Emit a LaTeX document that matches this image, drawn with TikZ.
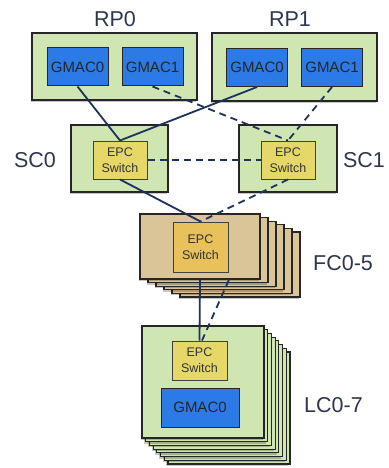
\documentclass[tikz,border=0pt]{standalone}
\usepackage{fontspec}
\setmainfont{Liberation Sans}
\usetikzlibrary{shadows,calc}
\definecolor{cardgreen}{RGB}{207,230,178}
\definecolor{gmacblue}{RGB}{43,122,230}
\definecolor{epcyellow}{RGB}{229,216,105}
\definecolor{epcgold}{RGB}{233,193,92}
\definecolor{fctan}{RGB}{217,197,152}
\definecolor{wire}{RGB}{30,50,92}
\definecolor{labeltext}{RGB}{45,55,75}
\begin{document}
\begin{tikzpicture}[x=1pt,y=-1pt,
  card/.style={draw=black!85,line width=1.2pt,fill=cardgreen,inner sep=0pt,
    drop shadow={shadow xshift=-1.5pt,shadow yshift=-2pt,fill=black,opacity=0.22}},
  gmac/.style={draw=black!85,line width=1pt,fill=gmacblue,minimum width=61pt,minimum height=38pt,
    inner sep=0pt,font=\fontsize{15}{17}\selectfont,text=black!85},
  epc/.style={draw=black!75,line width=1pt,fill=epcyellow,minimum width=54pt,minimum height=38pt,
    inner sep=0pt,align=center,font=\fontsize{12.5}{16}\selectfont,text=black!80},
  biglabel/.style={font=\fontsize{21.5}{24}\selectfont,text=labeltext,inner sep=0pt},
  link/.style={draw=wire,line width=1.8pt},
  dashlink/.style={link,dash pattern=on 7pt off 5pt}]
\useasboundingbox (0,0) rectangle (388,468);

% RP cards
\node[card,minimum width=165pt,minimum height=67pt] (rp0) at (114.5,66.5) {};
\node[card,minimum width=165pt,minimum height=68pt] (rp1) at (294.5,67) {};
\node[biglabel] (rp0l) at (115,19.5) {RP0};
\node[biglabel] (rp1l) at (290,19.5) {RP1};
\node[gmac] (rp0g0) at (77.5,67) {GMAC0};
\node[gmac] (rp0g1) at (152.5,67) {GMAC1};
\node[gmac] (rp1g0) at (257,67.5) {GMAC0};
\node[gmac] (rp1g1) at (332,67.5) {GMAC1};

% SC cards
\node[card,minimum width=97pt,minimum height=67pt] (sc0) at (119.5,158.5) {};
\node[card,minimum width=98pt,minimum height=67pt] (sc1) at (288,158.5) {};
\node[epc] (sc0epc) at (120,160) {EPC\\Switch};
\node[epc] (sc1epc) at (288,160) {EPC\\Switch};
\node[biglabel] (sc0l) at (35,160.5) {SC0};
\node[biglabel] (sc1l) at (364,160.5) {SC1};

% FC stack
\foreach \k in {5,4,3,2,1}{
  \node[card,fill=fctan,minimum width=120pt,minimum height=65pt] (fcb\k) at ({200+8*\k},{246.5+3.6*\k}) {};
}
\node[card,fill=fctan,minimum width=120pt,minimum height=65pt] (fc) at (200,246.5) {};
\node[epc,fill=epcgold,minimum width=55pt,minimum height=50pt] (fcepc) at (200.5,247) {EPC\\Switch};
\node[biglabel] (fcl) at (343,263.5) {FC0-5};

% LC stack
\foreach \k in {7,6,5,4,3,2,1}{
  \node[card,minimum width=122pt,minimum height=112pt] (lcb\k) at ({203+3.7*\k},{382+3.7*\k}) {};
}
\node[card,minimum width=122pt,minimum height=112pt] (lc) at (203,382) {};
\node[epc,minimum width=55pt,minimum height=39pt] (lcepc) at (199.5,360.5) {EPC\\Switch};
\node[gmac,minimum width=78pt,minimum height=39pt] (lcg0) at (200,407.5) {GMAC0};
\node[biglabel] (lcl) at (333.5,405) {LC0-7};

% connectors
\draw[link] (rp0g0.south) -- (sc0epc.north);
\draw[link] (rp1g0.south) -- (sc0epc.north);
\draw[dashlink] (rp0g1.south) -- (sc1epc.north);
\draw[dashlink] (rp1g1.south) -- (sc1epc.north);
\draw[dashlink] (sc0epc.east) -- (sc1epc.west);
\draw[link] (sc0epc.south) -- (fcepc.north);
\draw[dashlink] (sc1epc.south) -- (fcepc.north);
\coordinate (fcdash) at ($(fc.south)+(29,0)$);
\draw[link] (fc.south) -- (lcepc.north);
\draw[dashlink] (fcdash) -- ([xshift=2.5pt]lcepc.north);
\end{tikzpicture}
\end{document}
